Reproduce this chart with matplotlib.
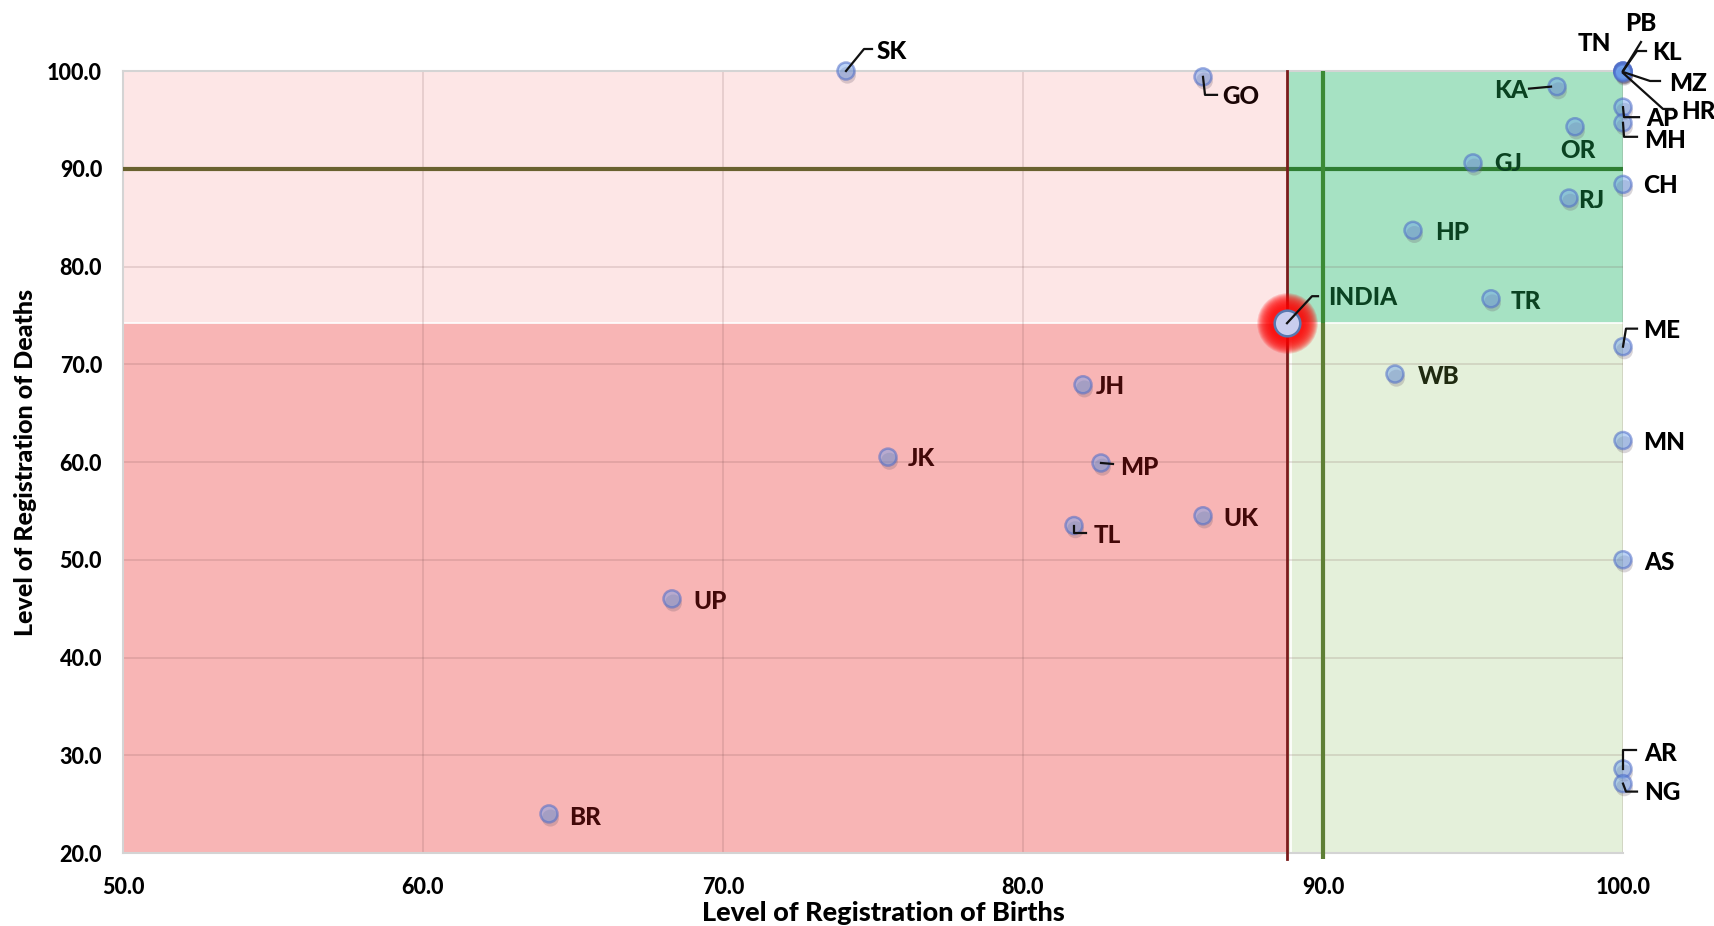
import matplotlib
matplotlib.use("Agg")
import matplotlib.pyplot as plt
import matplotlib.patheffects as pe
from matplotlib.lines import Line2D
from matplotlib.transforms import IdentityTransform
import numpy as np

# ---------------- data ----------------
states = ["SK", "GO", "TN", "PB", "KL", "MZ", "HR", "AP", "MH", "KA", "OR", "GJ",
          "CH", "RJ", "HP", "TR", "ME", "WB", "MN", "AS", "AR", "NG",
          "JH", "JK", "MP", "UK", "TL", "UP", "BR"]
births = [74.1, 86.0, 100.0, 100.0, 100.0, 100.0, 100.0, 100.0, 100.0, 97.8, 98.4, 95.0,
          100.0, 98.2, 93.0, 95.6, 100.0, 92.4, 100.0, 100.0, 100.0, 100.0,
          82.0, 75.5, 82.6, 86.0, 81.7, 68.3, 64.2]
deaths = [100.0, 99.4, 100.0, 100.0, 100.0, 99.9, 99.8, 96.3, 94.7, 98.4, 94.3, 90.6,
          88.4, 87.0, 83.7, 76.7, 71.8, 69.0, 62.2, 50.0, 28.6, 27.1,
          67.9, 60.5, 59.9, 54.5, 53.5, 46.0, 24.0]
india_name = "INDIA"
india_birth = 88.8
india_death = 74.2
target = 90.0

x_ticks = [50.0, 60.0, 70.0, 80.0, 90.0, 100.0]
y_ticks = [20.0, 30.0, 40.0, 50.0, 60.0, 70.0, 80.0, 90.0, 100.0]
x_title = "Level of Registration of Births"
y_title = "Level of Registration of Deaths"

# ---------------- styles (label offsets in pixels, leader polylines) ----------------
RED_TXT = "#420808"
GRN_TXT = "#0A4221"
BLK = "#000000"
label_style = {
    "SK": ((46, 21), BLK, [(0, 0), (18, 22), (26, 22)]),
    "GO": ((38, -18), "#1A0505", [(0, 0), (2, -18), (14, -18)]),
    "TN": ((-29, 29), BLK, None),
    "PB": ((18, 49), BLK, [(0, 0), (18, 29)]),
    "KL": ((44, 20), BLK, [(0, 0), (14, 20), (23, 20)]),
    "MZ": ((65, -10), BLK, [(0, 0), (27, -9), (37, -9)]),
    "HR": ((75, -37), BLK, [(0, 0), (40, -36), (50, -36)]),
    "AP": ((39, -10), BLK, [(0, 0), (1, -10), (16, -10)]),
    "MH": ((42, -16), BLK, [(0, 0), (1, -14), (14, -14)]),
    "KA": ((-46, -2), GRN_TXT, [(-6, 0), (-28, -2)]),
    "OR": ((3, -22), GRN_TXT, None),
    "GJ": ((35, 1), GRN_TXT, None),
    "CH": ((38, 0), BLK, None),
    "RJ": ((22, -1), GRN_TXT, None),
    "HP": ((39, -1), GRN_TXT, None),
    "TR": ((35, -1), GRN_TXT, None),
    "ME": ((39, 18), BLK, [(0, 0), (3, 18), (14, 18)]),
    "WB": ((44, -1), "#1F2A10", None),
    "MN": ((41, -1), BLK, None),
    "AS": ((36, -1), BLK, None),
    "AR": ((38, 17), BLK, [(0, 0), (0, 19), (13, 19)]),
    "NG": ((39, -7), BLK, [(0, 0), (3, -8), (14, -8)]),
    "JH": ((27, 0), RED_TXT, None),
    "JK": ((33, 0), RED_TXT, None),
    "MP": ((38, -3), RED_TXT, [(0, 0), (12, -1)]),
    "UK": ((38, -1), RED_TXT, None),
    "TL": ((33, -8), RED_TXT, [(0, 0), (0, -7), (12, -7)]),
    "UP": ((38, -1), RED_TXT, None),
    "BR": ((36, -2), RED_TXT, None),
}
india_style = ((76, 27), GRN_TXT, [(0, 0), (25, 27), (31, 27)])

FONT = ["Lato", "DejaVu Sans"]
plt.rcParams["font.family"] = FONT
WEIGHT = 900

W, H = 1715, 926
fig = plt.figure(figsize=(W / 100, H / 100), dpi=100)
fig.patch.set_facecolor("white")
ax = fig.add_axes([123 / W, 73 / H, 1500 / W, 782 / H])
ax.set_xlim(50, 100)
ax.set_ylim(20, 100)

# background quadrants
ax.fill_between([50, india_birth], india_death, 100, color="#FDE6E6", zorder=0.1, lw=0)
ax.fill_between([50, india_birth], 20, india_death, color="#F8B5B5", zorder=0.1, lw=0)
ax.fill_between([india_birth, 100], india_death, 100, color="#A6E2C3", zorder=0.1, lw=0)
ax.fill_between([india_birth, 100], 20, india_death, color="#E4F0DA", zorder=0.1, lw=0)
ax.plot([50, 100], [india_death, india_death], color="white", lw=1.2, zorder=0.2)
ax.plot([india_birth + 0.15, india_birth + 0.15], [20, india_death], color="white", lw=1.2, zorder=0.2)

ax.set_axisbelow(True)
ax.grid(True, color=(0.45, 0.3, 0.3), alpha=0.16, lw=1.4)
ax.set_xticks(x_ticks)
ax.set_yticks(y_ticks)
ax.set_xticklabels([f"{v:.1f}" for v in x_ticks])
ax.set_yticklabels([f"{v:.1f}" for v in y_ticks])
ax.tick_params(length=0, labelsize=15.5, pad=15)
ax.tick_params(axis="x", pad=17)
for lab in ax.get_xticklabels() + ax.get_yticklabels():
    lab.set_fontweight(WEIGHT)
for s in ax.spines.values():
    s.set_color("#D4D4D4")
    s.set_linewidth(1.5)
ax.spines["right"].set_visible(False)

# reference lines
ax.plot([50, india_birth], [target, target], color="#69612F", lw=3, zorder=3, solid_capstyle="butt")
ax.plot([india_birth, 100], [target, target], color="#2E7D32", lw=3, zorder=3, solid_capstyle="butt")
ax.plot([target, target], [india_death, 100], color="#3B8A35", lw=3, zorder=3, solid_capstyle="butt")
ax.plot([target, target], [19.4, india_death], color="#5E7F35", lw=3, zorder=3,
        solid_capstyle="butt", clip_on=False)
ax.plot([india_birth, india_birth], [19.4, 100], color="#7B1C1C", lw=2, zorder=3, clip_on=False)

# markers
shadow = [pe.SimplePatchShadow(offset=(1.0, -3.0), shadow_rgbFace="#6A5A6A", alpha=0.25), pe.Normal()]
ax.scatter(births, deaths, s=150, facecolor=(0.42, 0.62, 0.93, 0.45),
           edgecolor=(0.30, 0.42, 0.78, 0.55), lw=1.8, zorder=5, clip_on=False,
           path_effects=shadow)

# India glow + marker
for sz in np.linspace(1900, 600, 12):
    ax.scatter([india_birth], [india_death], s=sz, marker="o", color="#FF0000", alpha=0.16,
               lw=0, zorder=4)
ax.scatter([india_birth], [india_death], s=340, facecolor="#C9CDEE",
           edgecolor="#5878B0", lw=1.8, zorder=6)

fig.canvas.draw()


def leader(x, y, verts):
    bx, by = ax.transData.transform((x, y))
    xs = [bx + v[0] for v in verts]
    ys = [by + v[1] for v in verts]
    fig.add_artist(Line2D(xs, ys, transform=IdentityTransform(), color="#111111",
                          lw=1.6, zorder=10))


CAP = 9
for name, bx, dy in zip(states, births, deaths):
    (ox, oy), col, verts = label_style[name]
    ax.annotate(name, (bx, dy), xytext=(ox, oy - CAP), textcoords="offset pixels",
                ha="center", va="baseline", fontsize=17.5, fontweight=WEIGHT,
                color=col, zorder=8, annotation_clip=False)
    if verts:
        leader(bx, dy, verts)

(ox, oy), col, verts = india_style
ax.annotate(india_name, (india_birth, india_death), xytext=(ox, oy - CAP),
            textcoords="offset pixels", ha="center", va="baseline", fontsize=17.5,
            fontweight=WEIGHT, color=col, zorder=8)
leader(india_birth, india_death, verts)

ax.set_xlabel(x_title, fontsize=19.5, fontweight=WEIGHT, labelpad=0)
ax.xaxis.set_label_coords(0.507, -0.062)
ax.set_ylabel(y_title, fontsize=18, fontweight=WEIGHT, labelpad=7)

fig.savefig("out.png", dpi=100, facecolor="white")
